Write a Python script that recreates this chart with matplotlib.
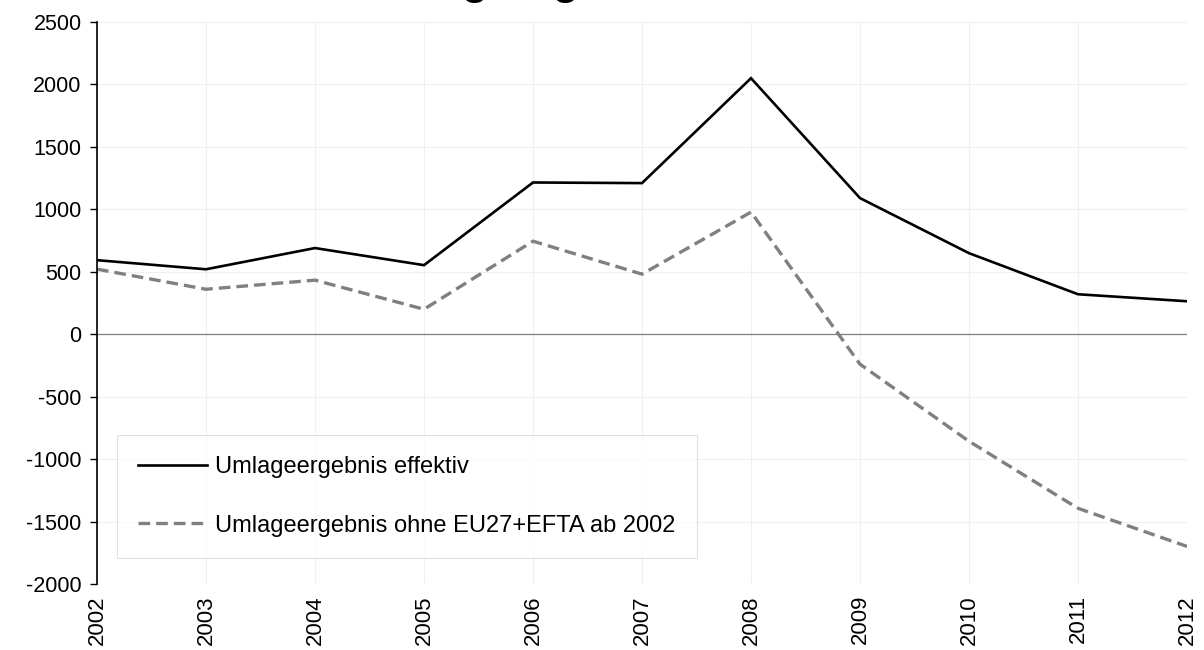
import matplotlib
matplotlib.use("Agg")
import matplotlib.pyplot as plt
from matplotlib.ticker import FuncFormatter

plt.rcParams['font.family'] = ['Liberation Sans', 'DejaVu Sans']

years = ["2002", "2003", "2004", "2005", "2006", "2007", "2008", "2009", "2010", "2011", "2012"]
effektiv = [593, 520, 690, 553, 1215, 1210, 2050, 1090, 649, 320, 264]
ohne_eu = [521, 360, 433, 200, 745, 481, 978, -240, -857, -1394, -1699]
label_eff = "Umlageergebnis effektiv"
label_ohne = "Umlageergebnis ohne EU27+EFTA ab 2002"
title = "Umlageergebnis"

W, H = 1204, 650
fig = plt.figure(figsize=(W / 100, H / 100), dpi=100)
ax = fig.add_axes([97 / W, 1 - 584 / H, (1187 - 97) / W, (584 - 22) / H])

x = list(range(len(years)))
ax.plot(x, effektiv, color="black", lw=1.9, label=label_eff, solid_joinstyle="miter")
ax.plot(x, ohne_eu, color="#808080", lw=2.4, ls=(0, (3.5, 1.8)), label=label_ohne)

ax.axhline(0, color="#7f7f7f", lw=0.9, zorder=1)

ax.set_xlim(0, len(years) - 1)
ax.set_ylim(-2000, 2500)
ax.set_yticks(range(-2000, 2501, 500))
ax.yaxis.set_major_formatter(FuncFormatter(lambda v, p: f"{int(v)}"))
ax.set_xticks(x)
ax.set_xticklabels(years, rotation=90, fontsize=16)
ax.tick_params(axis="y", labelsize=15.5, length=5, width=1, direction="out", pad=6)
ax.tick_params(axis="x", length=0, pad=8)

ax.grid(True, color="#f0f0f0", lw=0.8)
ax.set_axisbelow(True)
for s in ["top", "right", "bottom"]:
    ax.spines[s].set_visible(False)
ax.spines["left"].set_color("black")
ax.spines["left"].set_linewidth(1.2)

leg = ax.legend(loc="lower left", bbox_to_anchor=((117 - 97) / (1187 - 97), (584 - 558) / (584 - 22)),
                fontsize=17, frameon=True, fancybox=False, handlelength=2.9, handletextpad=0.35,
                labelspacing=1.55, borderpad=0.9, borderaxespad=0)
leg.get_frame().set_edgecolor("#d9d9d9")
leg.get_frame().set_linewidth(0.8)

fig.text(357 / W, 1 + 6 / H, title, fontsize=31, fontweight="bold", ha="left", va="baseline")

fig.savefig("out.png", dpi=100)
